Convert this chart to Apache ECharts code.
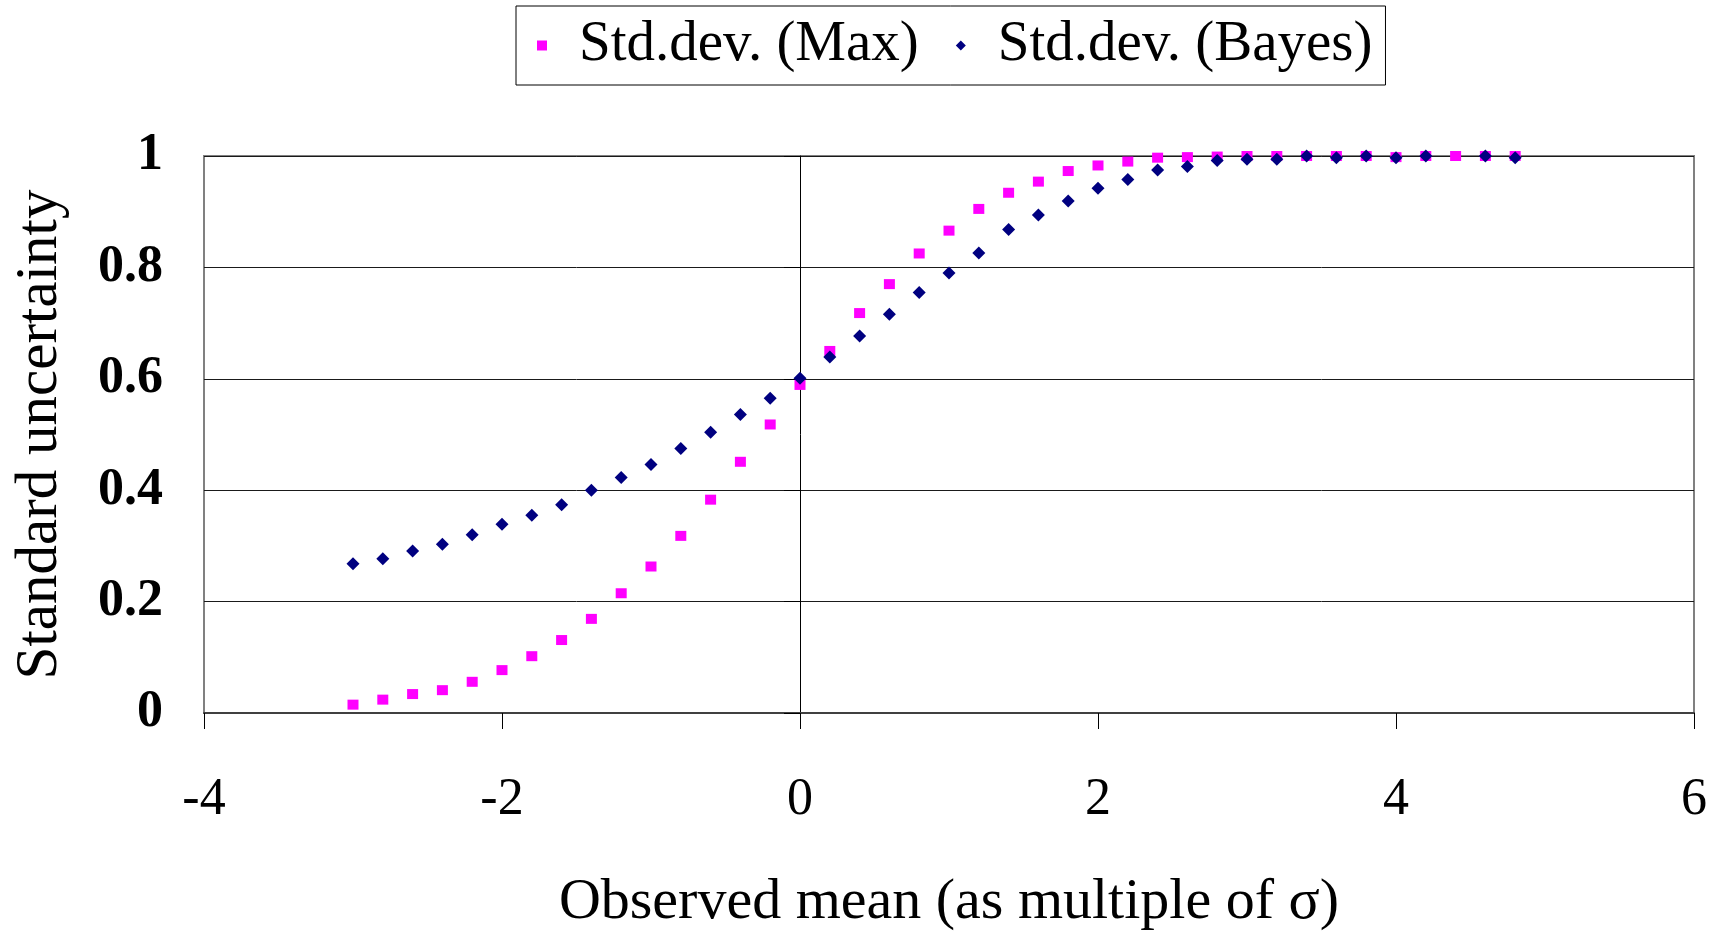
<!DOCTYPE html>
<html>
<head>
<meta charset="utf-8">
<script src="https://cdn.jsdelivr.net/npm/echarts@6/dist/echarts.min.js"></script>
<style>
  html, body { margin: 0; padding: 0; background: #fff; }
  #chart { width: 1724px; height: 937px; }
</style>
</head>
<body>
<div id="chart"></div>
<script>
// observed mean, in units of sigma
const xValues = [-3.0, -2.8, -2.6, -2.4, -2.2, -2.0, -1.8, -1.6, -1.4, -1.2,
  -1.0, -0.8, -0.6, -0.4, -0.2, 0.0, 0.2, 0.4, 0.6, 0.8,
  1.0, 1.2, 1.4, 1.6, 1.8, 2.0, 2.2, 2.4, 2.6, 2.8,
  3.0, 3.2, 3.4, 3.6, 3.8, 4.0, 4.2, 4.4, 4.6, 4.8];

const maxValues = [0.015, 0.024, 0.034, 0.041, 0.056, 0.077, 0.102, 0.131, 0.169, 0.215,
  0.263, 0.318, 0.383, 0.451, 0.518, 0.589, 0.650, 0.718, 0.770, 0.825,
  0.866, 0.905, 0.934, 0.954, 0.973, 0.983, 0.990, 0.997, 0.998, 0.999,
  1.0, 1.0, 1.0, 1.0, 1.0, 0.998, 1.0, 1.0, 1.0, 1.0];

// no Bayes point was drawn at 4.4
const bayesValues = [0.268, 0.277, 0.291, 0.303, 0.320, 0.339, 0.355, 0.374, 0.400, 0.423,
  0.446, 0.475, 0.504, 0.536, 0.565, 0.601, 0.639, 0.677, 0.716, 0.755,
  0.790, 0.826, 0.868, 0.894, 0.919, 0.942, 0.958, 0.975, 0.981, 0.992,
  0.994, 0.994, 1.0, 0.997, 1.0, 0.997, 1.0, null, 1.0, 0.997];

const seriesNames = ["Std.dev. (Max)", "Std.dev. (Bayes)"];
const xTicks = [-4, 6, 2];   // min, max, step
const yTicks = [0, 1, 0.2];

const FONT = '"Liberation Serif", "DejaVu Serif", serif';

function pairs(ys) {
  return xValues.map((x, i) => [x, ys[i]]).filter(p => p[1] != null);
}

const chart = echarts.init(document.getElementById("chart"));

chart.setOption({
  animation: false,
  backgroundColor: "#fff",
  textStyle: { fontFamily: FONT, color: "#000" },
  legend: {
    left: 516,
    top: 6,
    orient: "horizontal",
    padding: [11, 13, 11, 21],
    itemGap: 37,
    itemWidth: 10,
    itemHeight: 10,
    borderColor: "#000",
    borderWidth: 1,
    textStyle: { fontFamily: FONT, fontSize: 57, color: "#000", padding: [0, 0, 0, 27] },
    data: [
      { name: seriesNames[0], icon: "rect" },
      { name: seriesNames[1], icon: "diamond" }
    ]
  },
  grid: {
    left: 204,
    top: 156,
    width: 1490,
    height: 567,
    show: true,
    borderColor: "#808080",
    borderWidth: 2,
    containLabel: false
  },
  xAxis: {
    type: "value",
    min: xTicks[0],
    max: xTicks[1],
    interval: xTicks[2],
    name: "Observed mean (as multiple of σ)",
    nameLocation: "middle",
    nameGap: 161,
    nameTextStyle: { fontFamily: FONT, fontSize: 58, color: "#000" },
    axisLine: { onZero: false, lineStyle: { color: "#404040", width: 2 } },
    axisTick: { show: true, inside: false, length: 16, lineStyle: { color: "#000", width: 1 } },
    axisLabel: { margin: 61, fontFamily: FONT, fontSize: 52, color: "#000" },
    splitLine: { show: false }
  },
  yAxis: [
    {
      type: "value",
      position: "left",
      min: yTicks[0],
      max: yTicks[1],
      interval: yTicks[2],
      name: "Standard uncertainty",
      nameLocation: "middle",
      nameGap: 134,
      nameTextStyle: { fontFamily: FONT, fontSize: 59, color: "#000" },
      axisLine: { show: false, onZero: false },
      axisTick: { show: false },
      axisLabel: { margin: 41, fontFamily: FONT, fontSize: 52, fontWeight: "bold", color: "#000" },
      splitLine: { show: true, lineStyle: { color: "#1a1a1a", width: 1 } }
    },
    {
      // the vertical axis line crossing at x = 0
      type: "value",
      position: "left",
      min: yTicks[0],
      max: yTicks[1],
      interval: yTicks[2],
      axisLine: { show: true, onZero: true, lineStyle: { color: "#000", width: 1 } },
      axisTick: { show: true, inside: false, length: 16, lineStyle: { color: "#000", width: 1 } },
      axisLabel: { show: false },
      splitLine: { show: false }
    }
  ],
  series: [
    {
      name: seriesNames[0],
      type: "scatter",
      symbol: "rect",
      symbolSize: [11, 10],
      itemStyle: { color: "#ff00ff", opacity: 1 },
      data: pairs(maxValues)
    },
    {
      name: seriesNames[1],
      type: "scatter",
      symbol: "diamond",
      symbolSize: [13, 13],
      itemStyle: { color: "#000080", opacity: 1 },
      data: pairs(bayesValues)
    }
  ]
});
</script>
</body>
</html>
